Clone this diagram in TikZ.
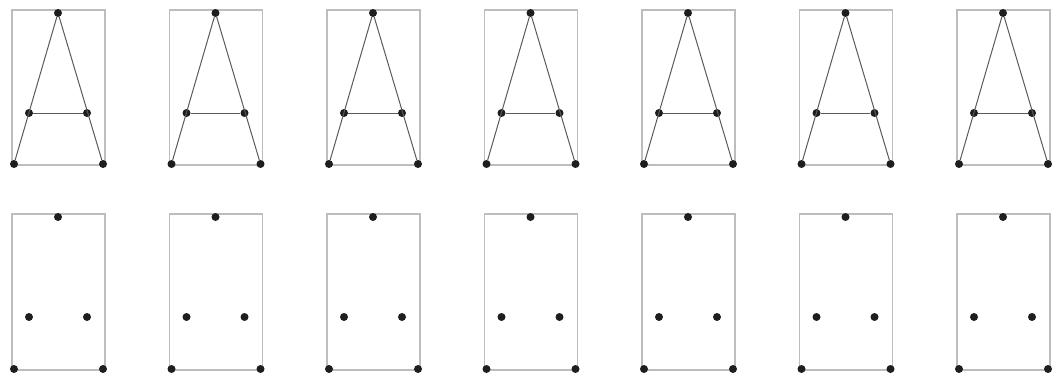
\documentclass[tikz,border=0pt]{standalone}
\usepackage{xcolor}
\usetikzlibrary{calc}
\definecolor{framec}{HTML}{BDBDBD}
\definecolor{dotc}{HTML}{1E1E1E}
\definecolor{strokec}{HTML}{5A5A5A}
\tikzset{
  frm/.style={draw=framec,line width=1.3pt},
  pt/.style={circle,fill=dotc,inner sep=0pt,minimum size=8pt},
  bar/.style={strokec,line width=1pt}
}

\begin{document}
\begin{tikzpicture}[x=1pt,y=-1pt]
\useasboundingbox (0,0) rectangle (1056,380);
\foreach \i in {0,...,6}{
  \pgfmathsetmacro{\xo}{12+157.5*\i}
  % top row: the letter A
  \draw[frm] (\xo,10) rectangle ++(93,155);
  \node[pt] (ta\i) at (\xo+46,13) {};
  \node[pt] (ml\i) at (\xo+17,113) {};
  \node[pt] (mr\i) at (\xo+75,113) {};
  \node[pt] (bl\i) at (\xo+2,164) {};
  \node[pt] (br\i) at (\xo+91,164) {};
  \draw[bar] (ta\i) -- (bl\i);
  \draw[bar] (ta\i) -- (br\i);
  \draw[bar] (ml\i) -- (mr\i);
  % bottom row: points only
  \draw[frm] (\xo,214) rectangle ++(93,156);
  \node[pt] (pa\i) at (\xo+46,217) {};
  \node[pt] (pl\i) at (\xo+17,317) {};
  \node[pt] (pr\i) at (\xo+75,317) {};
  \node[pt] (ql\i) at (\xo+2,369) {};
  \node[pt] (qr\i) at (\xo+91,369) {};
}
\end{tikzpicture}
\end{document}
